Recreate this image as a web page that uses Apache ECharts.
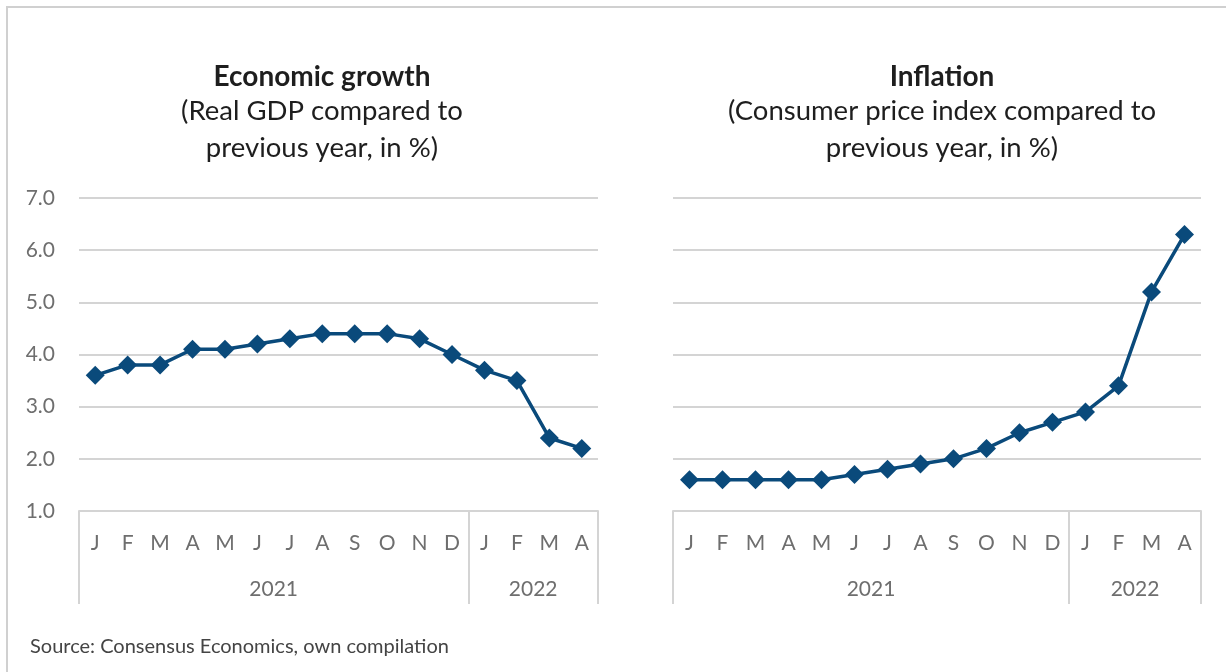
<!DOCTYPE html>
<html>
<head>
<meta charset="utf-8">
<script src="https://cdn.jsdelivr.net/npm/echarts@6/dist/echarts.min.js"></script>
<style>
  html, body { margin: 0; padding: 0; background: #fff; }
  #chart { width: 1226px; height: 672px; }
</style>
</head>
<body>
<div id="chart"></div>
<script>
const months = ['J', 'F', 'M', 'A', 'M', 'J', 'J', 'A', 'S', 'O', 'N', 'D', 'J', 'F', 'M', 'A']
const years = ['2021', '2022']
const yearBounds = [0, 12, 16]
const yearCenters = [6, 14]
const growth = [3.6, 3.8, 3.8, 4.1, 4.1, 4.2, 4.3, 4.4, 4.4, 4.4, 4.3, 4.0, 3.7, 3.5, 2.4, 2.2]
const inflation = [1.6, 1.6, 1.6, 1.6, 1.6, 1.7, 1.8, 1.9, 2.0, 2.2, 2.5, 2.7, 2.9, 3.4, 5.2, 6.3]

const font = 'Lato'
const blue = '#0a4a7b'
const grey = '#d4d4d4'
const labelGrey = '#6e6e6e'

function titleOf(x, main, sub){
    return {
        text: main,
        subtext: sub,
        left: x,
        top: 58,
        textAlign: 'center',
        itemGap: 2,
        textStyle: { fontFamily: font, fontSize: 28, fontWeight: 'bold', color: '#1e1e1e' },
        subtextStyle: { fontFamily: font, fontSize: 27.5, color: '#1e1e1e', lineHeight: 37 }
    }
}

function monthAxis(idx){
    return {
        type: 'category',
        gridIndex: idx,
        data: months,
        boundaryGap: true,
        axisLine: { lineStyle: { color: grey, width: 2 } },
        axisTick: { interval: 0, length: 54, lineStyle: { color: grey, width: 2 } },
        axisLabel: { interval: 0, margin: 22, fontFamily: font, fontSize: 21, color: labelGrey }
    }
}

// short ticks poking above the axis line
function tickAxis(idx){
    return {
        type: 'category',
        gridIndex: idx,
        data: months,
        boundaryGap: true,
        axisLine: { show: false },
        axisTick: { interval: 0, inside: true, length: 7, lineStyle: { color: grey, width: 2 } },
        axisLabel: { show: false }
    }
}

function yearAxis(idx){
    return {
        type: 'value',
        gridIndex: idx,
        min: 0,
        max: 16,
        position: 'bottom',
        axisLine: { show: false },
        splitLine: { show: false },
        axisTick: { show: true, customValues: yearBounds, length: 93, lineStyle: { color: grey, width: 2 } },
        axisLabel: {
            customValues: yearCenters,
            margin: 68,
            fontFamily: font, fontSize: 21, color: labelGrey,
            formatter: (v) => years[yearCenters.indexOf(v)]
        }
    }
}

function valueAxis(idx, showLabels){
    return {
        type: 'value',
        gridIndex: idx,
        min: 1,
        max: 7,
        interval: 1,
        axisLine: { show: false },
        axisTick: { show: false },
        axisLabel: {
            show: showLabels,
            margin: 24,
            fontFamily: font, fontSize: 21, color: labelGrey,
            formatter: (v) => v.toFixed(1)
        },
        splitLine: { lineStyle: { color: grey, width: 2 } }
    }
}

function lineSeries(idx, data){
    return {
        type: 'line',
        xAxisIndex: idx * 3,
        yAxisIndex: idx,
        data: data,
        symbol: 'diamond',
        symbolSize: 19,
        itemStyle: { color: blue },
        lineStyle: { color: blue, width: 3.5 },
        animation: false
    }
}

const myChart = echarts.init(document.getElementById('chart'))
const option = {
    backgroundColor: '#fff',
    title: [
        titleOf(317, 'Economic growth', '(Real GDP compared to\nprevious year, in %)'),
        titleOf(937, 'Inflation', '(Consumer price index compared to\nprevious year, in %)')
    ],
    grid: [
        { left: 79, width: 519, top: 198, height: 313 },
        { left: 673, width: 528, top: 198, height: 313 }
    ],
    xAxis: [monthAxis(0), yearAxis(0), tickAxis(0), monthAxis(1), yearAxis(1), tickAxis(1)],
    yAxis: [valueAxis(0, true), valueAxis(1, false)],
    series: [lineSeries(0, growth), lineSeries(1, inflation)],
    graphic: [
        {
            type: 'rect',
            shape: { x: 7, y: 7, width: 1260, height: 720 },
            style: { fill: 'none', stroke: '#d0d0d0', lineWidth: 2 },
            silent: true
        },
        {
            type: 'text',
            left: 30,
            top: 637,
            style: { text: 'Source: Consensus Economics, own compilation', fontFamily: font, fontSize: 20, fill: '#444' }
        }
    ]
}
myChart.setOption(option)

window.onresize = () => {
    myChart.resize()
}
</script>
</body>
</html>
